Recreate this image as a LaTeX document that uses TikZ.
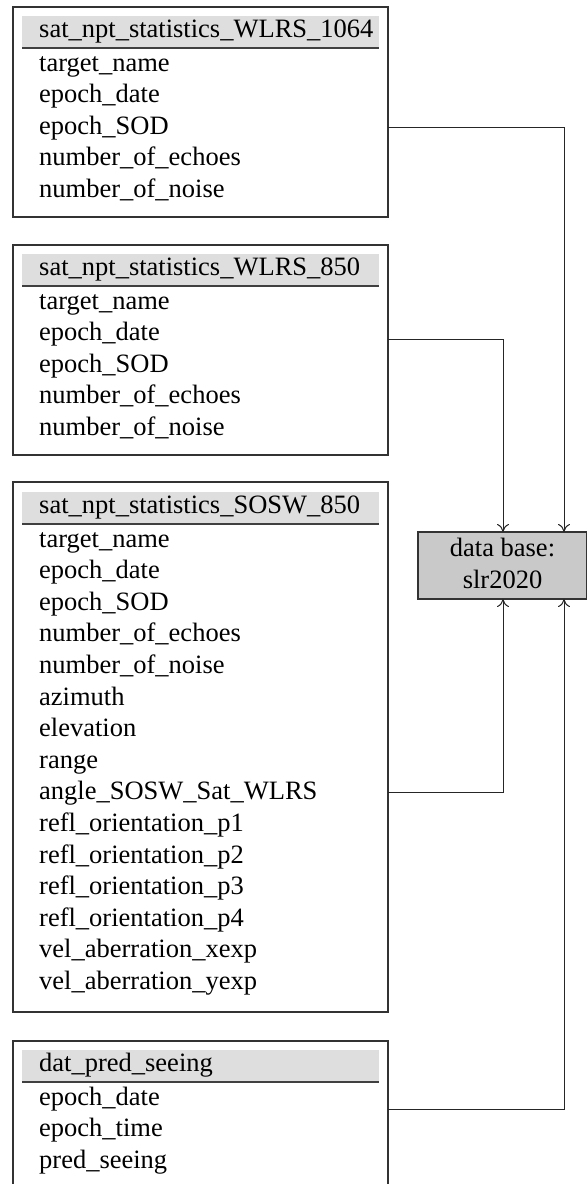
\documentclass[tikz,border=0pt]{standalone}
\usepackage{fontspec}
\setmainfont{Liberation Serif}
\usetikzlibrary{arrows.meta}
\begin{document}
\begin{tikzpicture}[x=1pt,y=-1pt,
  tbl/.style={draw=black!80, line width=1.2pt, inner sep=0pt, outer sep=0pt, anchor=north west, minimum width=375pt},
  hdr/.style={fill=black!13, draw=none, inner sep=0pt, outer sep=0pt, anchor=north west, minimum width=357pt, minimum height=32pt},
  hrule/.style={draw=black!75, line width=1.6pt},
  txt/.style={anchor=base west, inner sep=0pt, font=\fontsize{26.5}{31.6}\selectfont},
  dbbox/.style={draw=black!80, fill=black!21, line width=1.2pt, inner sep=0pt, outer sep=0pt, minimum width=168.5pt, minimum height=67pt},
  dbtxt/.style={anchor=base, inner sep=0pt, font=\fontsize{26.5}{31.6}\selectfont},
  conn/.style={draw=black!85, line width=1pt, -{To[length=8pt,width=12pt,line width=1pt]}},
]
\clip (0,0) rectangle (587,1184);

% table 1
\node[tbl, minimum height=210pt] (b1) at (13,7) {};
\node[hdr] (h1) at (22,16) {};
\draw[hrule] (h1.south west) -- (h1.south east);
\node[txt] (h1t) at (39,37) {sat\_npt\_statistics\_WLRS\_1064};
\foreach \t [count=\i from 0] in {target\_name,epoch\_date,epoch\_SOD,number\_of\_echoes,number\_of\_noise}
  \node[txt] (b1r\i) at (39,{71+31.6*\i}) {\t};

% table 2
\node[tbl, minimum height=210pt] (b2) at (13,245) {};
\node[hdr] (h2) at (22,254) {};
\draw[hrule] (h2.south west) -- (h2.south east);
\node[txt] (h2t) at (39,275) {sat\_npt\_statistics\_WLRS\_850};
\foreach \t [count=\i from 0] in {target\_name,epoch\_date,epoch\_SOD,number\_of\_echoes,number\_of\_noise}
  \node[txt] (b2r\i) at (39,{309+31.6*\i}) {\t};

% table 3
\node[tbl, minimum height=530pt] (b3) at (13,482) {};
\node[hdr] (h3) at (22,492) {};
\draw[hrule] (h3.south west) -- (h3.south east);
\node[txt] (h3t) at (39,513) {sat\_npt\_statistics\_SOSW\_850};
\foreach \t [count=\i from 0] in {target\_name,epoch\_date,epoch\_SOD,number\_of\_echoes,number\_of\_noise,azimuth,elevation,range,angle\_SOSW\_Sat\_WLRS,refl\_orientation\_p1,refl\_orientation\_p2,refl\_orientation\_p3,refl\_orientation\_p4,vel\_aberration\_xexp,vel\_aberration\_yexp}
  \node[txt] (b3r\i) at (39,{547+31.6*\i}) {\t};

% table 4
\node[tbl, minimum height=147pt] (b4) at (13,1041) {};
\node[hdr] (h4) at (22,1050) {};
\draw[hrule] (h4.south west) -- (h4.south east);
\node[txt] (h4t) at (39,1071) {dat\_pred\_seeing};
\foreach \t [count=\i from 0] in {epoch\_date,epoch\_time,pred\_seeing}
  \node[txt] (b4r\i) at (39,{1105+31.6*\i}) {\t};

% data base
\node[dbbox] (db) at (502.25,565.5) {};
\node[dbtxt] (dbl1) at (502.5,556) {data base:};
\node[dbtxt] (dbl2) at (502.5,588) {slr2020};

% connectors
\coordinate (y1) at (0,127);
\coordinate (y2) at (0,339);
\coordinate (y3) at (0,792);
\coordinate (y4) at (0,1109);
\coordinate (xr) at (564,0);
\coordinate (xl) at (503,0);
\draw[conn] (b1.east |- y1) -| (xr |- db.north);
\draw[conn] (b2.east |- y2) -| (xl |- db.north);
\draw[conn] (b3.east |- y3) -| (xl |- db.south);
\draw[conn] (b4.east |- y4) -| (xr |- db.south);
\end{tikzpicture}
\end{document}
